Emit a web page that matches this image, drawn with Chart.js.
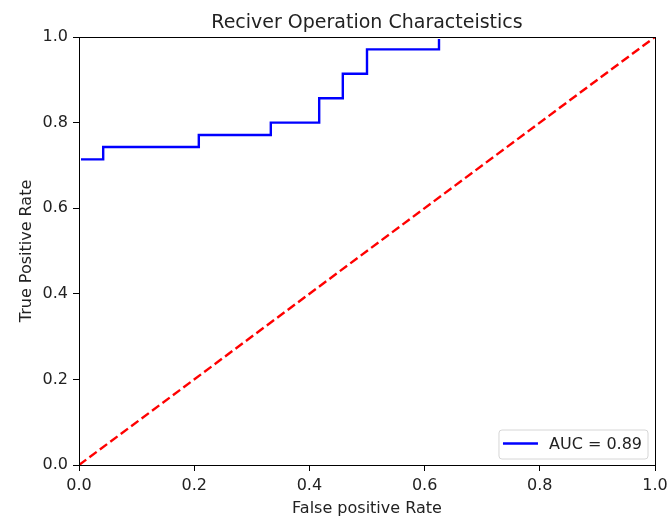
<!DOCTYPE html>
<html>
<head>
<meta charset="utf-8">
<script src="https://cdn.jsdelivr.net/npm/chart.js@4.4.1/dist/chart.umd.min.js"></script>
<style>
  html, body { margin: 0; padding: 0; background: #fff; }
  #wrap { width: 667px; height: 521px; position: relative; }
</style>
</head>
<body>
<div id="wrap"><canvas id="c" width="667" height="521"></canvas></div>
<script>
const chartTitle = "Reciver Operation Characteistics";
const xAxisTitle = "False positive Rate";
const yAxisTitle = "True Positive Rate";
const rocLabel = "AUC = 0.89";
const fpr = [0, 0, 0.042, 0.042, 0.208, 0.208, 0.333, 0.333, 0.417, 0.417, 0.458, 0.458, 0.5, 0.5, 0.625, 0.625, 1.0];
const tpr = [0, 0.714, 0.714, 0.743, 0.743, 0.771, 0.771, 0.8, 0.8, 0.857, 0.857, 0.914, 0.914, 0.971, 0.971, 1.0, 1.0];
const diagX = [0, 1];
const diagY = [0, 1];
const tickValues = [0, 0.2, 0.4, 0.6, 0.8, 1.0];

const FONT = "'DejaVu Sans', sans-serif";

const rocPoints = fpr.map((x, i) => ({x: x, y: tpr[i]}));
const diagPoints = diagX.map((x, i) => ({x: x, y: diagY[i]}));

const framePlugin = {
  id: 'frame',
  afterDatasetsDraw(chart) {
    const {ctx, chartArea: a} = chart;
    ctx.save();
    ctx.strokeStyle = '#000';
    ctx.lineWidth = 1;
    ctx.strokeRect(Math.round(a.left) + 0.5, Math.round(a.top) + 0.5, Math.round(a.right - a.left), Math.round(a.bottom - a.top));
    ctx.restore();
  }
};

const titlePlugin = {
  id: 'axesTitle',
  afterDraw(chart) {
    const {ctx, chartArea: a} = chart;
    ctx.save();
    ctx.font = "19px " + FONT;
    ctx.fillStyle = '#222';
    ctx.textAlign = 'center';
    ctx.textBaseline = 'alphabetic';
    ctx.fillText(chartTitle, (a.left + a.right) / 2, a.top - 9);
    ctx.restore();
  }
};

const legendPlugin = {
  id: 'boxLegend',
  afterDraw(chart) {
    const {ctx, chartArea: a} = chart;
    const ds = chart.data.datasets[0];
    ctx.save();
    ctx.font = "16px " + FONT;
    const tw = ctx.measureText(ds.label).width;
    const w = 3 + 35 + 11 + tw + 7;
    const h = 29;
    const x = a.right - 7 - w;
    const y = a.bottom - 6 - h;
    const r = 3;
    ctx.beginPath();
    ctx.moveTo(x + r, y);
    ctx.lineTo(x + w - r, y);
    ctx.arcTo(x + w, y, x + w, y + r, r);
    ctx.lineTo(x + w, y + h - r);
    ctx.arcTo(x + w, y + h, x + w - r, y + h, r);
    ctx.lineTo(x + r, y + h);
    ctx.arcTo(x, y + h, x, y + h - r, r);
    ctx.lineTo(x, y + r);
    ctx.arcTo(x, y, x + r, y, r);
    ctx.closePath();
    ctx.fillStyle = 'rgba(255,255,255,0.8)';
    ctx.fill();
    ctx.strokeStyle = '#d6d6d6';
    ctx.lineWidth = 1;
    ctx.stroke();
    ctx.beginPath();
    ctx.strokeStyle = ds.borderColor;
    ctx.lineWidth = 2.4;
    ctx.moveTo(x + 4, y + h / 2 - 1);
    ctx.lineTo(x + 39, y + h / 2 - 1);
    ctx.stroke();
    ctx.fillStyle = '#222';
    ctx.textBaseline = 'middle';
    ctx.textAlign = 'left';
    ctx.fillText(ds.label, x + 50, y + h / 2);
    ctx.restore();
  }
};

new Chart(document.getElementById('c'), {
  type: 'scatter',
  data: {
    datasets: [
      {
        label: rocLabel,
        data: rocPoints,
        showLine: true,
        borderColor: '#0000ff',
        backgroundColor: '#0000ff',
        borderWidth: 2.4,
        pointRadius: 0,
        tension: 0,
        clip: -2
      },
      {
        label: 'diagonal',
        data: diagPoints,
        showLine: true,
        borderColor: '#ff0000',
        backgroundColor: '#ff0000',
        borderWidth: 2.4,
        borderDash: [9, 4],
        pointRadius: 0,
        tension: 0,
        clip: 0
      }
    ]
  },
  options: {
    responsive: false,
    animation: false,
    layout: { padding: { left: 0, right: 12, top: 37, bottom: 0 } },
    plugins: {
      legend: { display: false },
      tooltip: { enabled: false },
      title: { display: false }
    },
    scales: {
      x: {
        type: 'linear',
        min: 0, max: 1,
        afterBuildTicks: (s) => { s.ticks = tickValues.map(v => ({value: v})); },
        afterFit: (s) => { s.height = 56; s.paddingLeft = 0; s.paddingRight = 0; },
        ticks: {
          color: '#222',
          font: { family: FONT, size: 16 },
          padding: 5,
          maxRotation: 0,
          callback: (v) => Number(v).toFixed(1)
        },
        grid: { display: true, drawOnChartArea: false, drawTicks: true, tickLength: 6, tickColor: '#000', color: '#000' },
        border: { display: true, color: '#000', width: 1 },
        title: {
          display: true,
          text: xAxisTitle,
          color: '#222',
          font: { family: FONT, size: 16 },
          padding: { top: 0, bottom: 3 }
        }
      },
      y: {
        type: 'linear',
        min: 0, max: 1,
        afterBuildTicks: (s) => { s.ticks = tickValues.map(v => ({value: v})); },
        afterFit: (s) => { s.width = 79; s.paddingTop = 0; s.paddingBottom = 0; },
        ticks: {
          color: '#222',
          font: { family: FONT, size: 16 },
          padding: 5,
          callback: (v) => Number(v).toFixed(1)
        },
        grid: { display: true, drawOnChartArea: false, drawTicks: true, tickLength: 6, tickColor: '#000', color: '#000' },
        border: { display: true, color: '#000', width: 1 },
        title: {
          display: true,
          text: yAxisTitle,
          color: '#222',
          font: { family: FONT, size: 16 },
          padding: { top: 17, bottom: 0 }
        }
      }
    }
  },
  plugins: [framePlugin, titlePlugin, legendPlugin]
});
</script>
</body>
</html>
